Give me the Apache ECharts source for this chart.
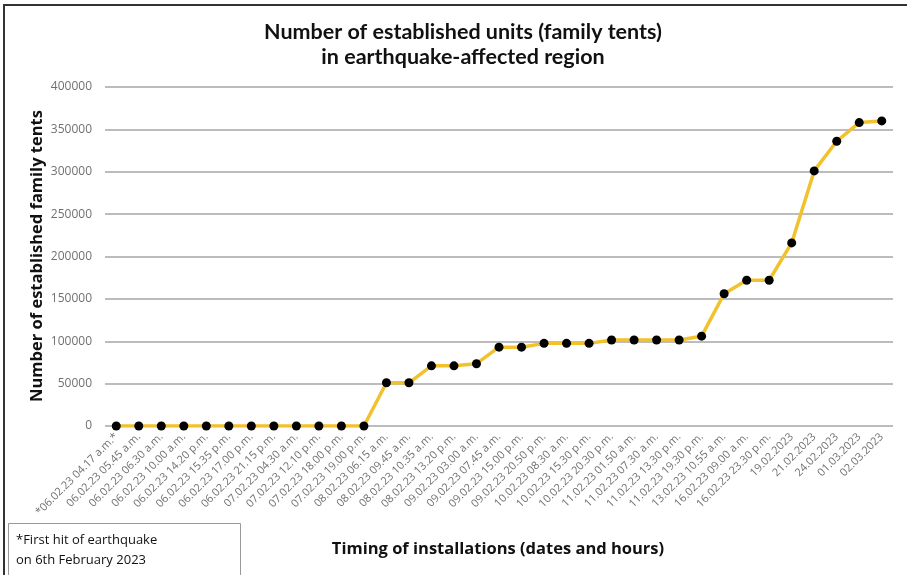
<!DOCTYPE html>
<html>
<head>
<meta charset="utf-8">
<script src="https://cdn.jsdelivr.net/npm/echarts@6/dist/echarts.min.js"></script>
<style>html,body{margin:0;padding:0;background:#fff;}#c{width:907px;height:575px;}</style>
</head>
<body>
<div id="c"></div>
<script>
var categories = [
  "*06.02.23 04.17 a.m.*","06.02.23 05.45 a.m.","06.02.23 06.30 a.m.","06.02.23 10.00 a.m.",
  "06.02.23 14.20 p.m.","06.02.23 15.35 p.m.","06.02.23 17.00 p.m.","06.02.23 21.15 p.m.",
  "07.02.23 04.30 a.m.","07.02.23 12.10 p.m.","07.02.23 18.00 p.m.","07.02.23 19.00 p.m.",
  "08.02.23 06.15 a.m.","08.02.23 09.45 a.m.","08.02.23 10.35 a.m.","08.02.23 13.20 p.m.",
  "09.02.23 03.00 a.m.","09.02.23 07.45 a.m.","09.02.23 15.00 p.m.","09.02.23 20.50 p.m.",
  "10.02.23 08.30 a.m.","10.02.23 15.30 p.m.","10.02.23 20.30 p.m.","11.02.23 01.50 a.m.",
  "11.02.23 07.30 a.m.","11.02.23 13.30 p.m.","11.02.23 19.30 p.m.","13.02.23 10.55 a.m.",
  "16.02.23 09.00 a.m.","16.02.23 23.30 p.m.","19.02.2023","21.02.2023","24.02.2023",
  "01.03.2023","02.03.2023"
];
var tents = [
  0,0,0,0,0,0,0,0,0,0,0,0,
  51000,51000,71000,71000,73500,93000,93000,97500,97500,97500,
  101500,101500,101500,101500,106000,156000,172000,172000,216000,
  301000,336000,358000,360000
];
var yTicks = [0,50000,100000,150000,200000,250000,300000,350000,400000];
var titleText = "Number of established units (family tents)\nin earthquake-affected region";
var yTitle = "Number of established family tents";
var xTitle = "Timing of installations (dates and hours)";
var footnote = "*First hit of earthquake\non 6th February 2023";

var chart = echarts.init(document.getElementById('c'));
chart.setOption({
  animation: false,
  backgroundColor: '#ffffff',
  title: {
    text: titleText,
    left: 458, top: 15, textAlign: 'center',
    textStyle: { fontFamily: 'Lato', fontWeight: 'bold', fontSize: 21.5, lineHeight: 25, color: '#111' }
  },
  grid: { left: 105, right: 14, top: 87, bottom: 149, containLabel: false },
  xAxis: {
    type: 'category', data: categories, boundaryGap: ['1.5%','1.5%'],
    axisLine: { show: false }, axisTick: { show: false },
    axisLabel: { interval: 0, rotate: 45, fontSize: 11, color: '#707070', fontFamily: 'Open Sans', margin: 9 }
  },
  yAxis: {
    type: 'value', min: 0, max: 400000, interval: 50000,
    axisLine: { show: false }, axisTick: { show: false },
    axisLabel: { fontSize: 12, color: '#707070', fontFamily: 'Open Sans', margin: 13,
      formatter: function(v){ return yTicks.indexOf(v) >= 0 ? String(v) : ''; } },
    splitLine: { lineStyle: { color: '#a6a6a6', width: 1.5 } }
  },
  series: [{
    type: 'line', data: tents,
    lineStyle: { color: '#F2C12E', width: 3.5 },
    itemStyle: { color: '#000' },
    symbol: 'circle', symbolSize: 9
  }],
  graphic: [
    { type: 'rect', shape: { x: 4, y: 5, width: 910, height: 580 }, style: { fill: 'none', stroke: '#333', lineWidth: 2 }, silent: true },
    { type: 'text', x: 37, y: 256, rotation: Math.PI/2,
      style: { text: yTitle, fontFamily: 'Open Sans', fontWeight: 'bold', fontSize: 16.5, fill: '#111', align: 'center', verticalAlign: 'middle' } },
    { type: 'text', x: 498, y: 549,
      style: { text: xTitle, fontFamily: 'Open Sans', fontWeight: 'bold', fontSize: 16.5, fill: '#111', align: 'center', verticalAlign: 'middle' } },
    { type: 'rect', shape: { x: 8.5, y: 523.5, width: 232, height: 60 }, style: { fill: '#fff', stroke: '#999', lineWidth: 1 } },
    { type: 'text', x: 16, y: 530,
      style: { text: footnote, fontFamily: 'Open Sans', fontSize: 13, lineHeight: 20, fill: '#111' } }
  ]
});
</script>
</body>
</html>
